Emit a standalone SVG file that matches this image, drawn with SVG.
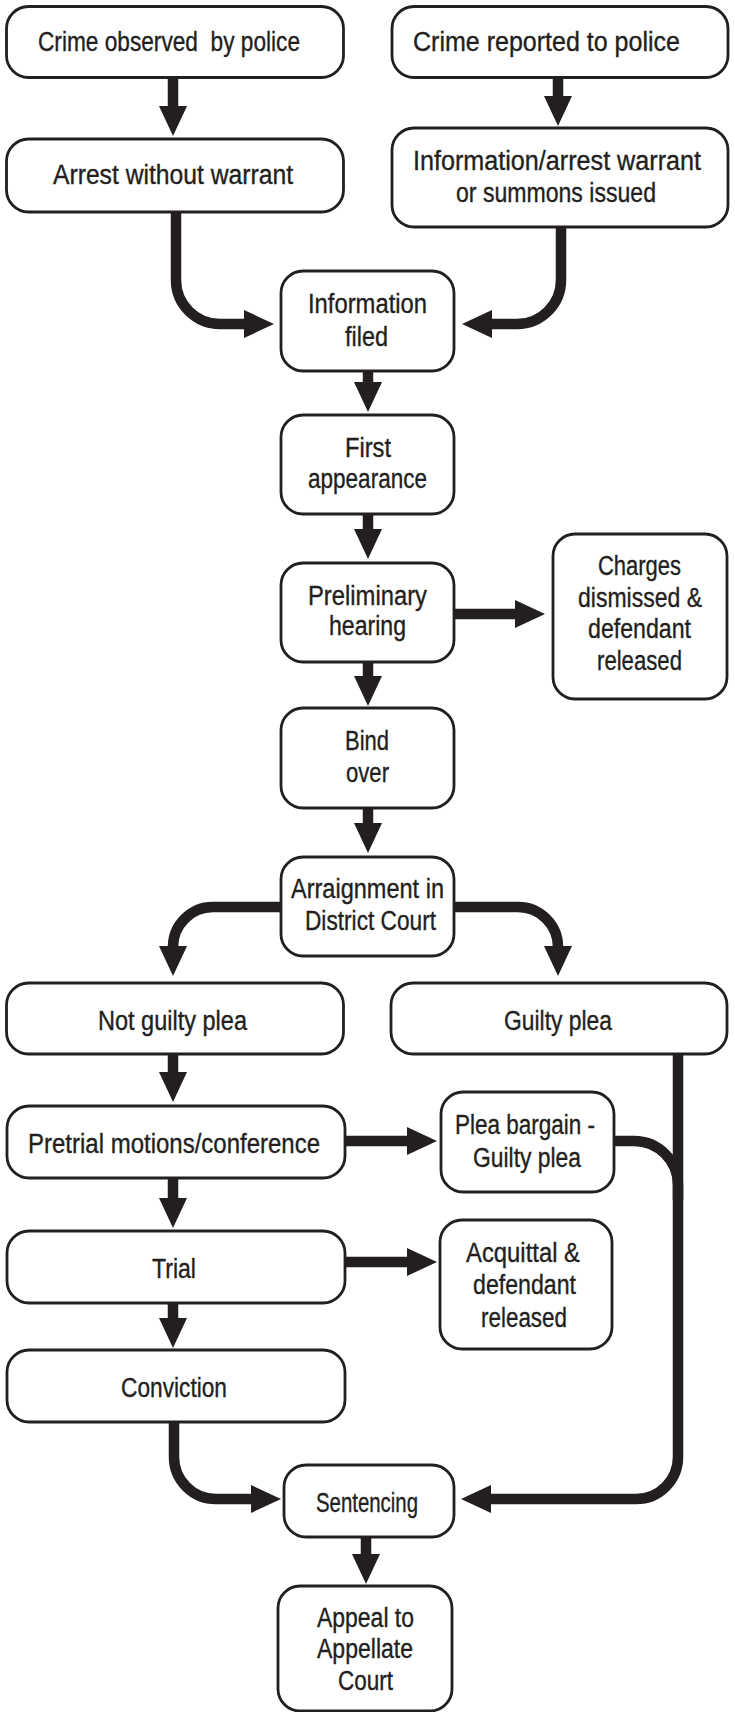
<svg xmlns="http://www.w3.org/2000/svg" width="735" height="1712" viewBox="0 0 735 1712">
<style>
  .box { fill: #ffffff; stroke: #231f20; stroke-width: 2.8; }
  .lbl { font-family: "Liberation Sans Narrow", "Liberation Sans", Arial, sans-serif; font-size: 27px; fill: #231f20; stroke: #231f20; stroke-width: 0.35; text-anchor: middle; }
  .conn { fill: none; stroke: #231f20; stroke-width: 10.5; }
  .arrow { marker-end: url(#head); }
</style>
<defs>
  <marker id="head" markerUnits="userSpaceOnUse" markerWidth="32" markerHeight="30" viewBox="0 -15 32 30" refX="1" refY="0" orient="auto">
    <path d="M0,-14 L30,0 L0,14 Z" fill="#231f20"/>
  </marker>
</defs>
<rect width="735" height="1712" fill="#ffffff"/>

<g id="connectors">
  <path class="conn arrow" d="M173,78 V107"/>
  <path class="conn arrow" d="M558,78 V97"/>
  <path class="conn arrow" d="M176,212 V280 A44,44 0 0 0 220,324 H245"/>
  <path class="conn arrow" d="M561,227 V280 A44,44 0 0 1 517,324 H491"/>
  <path class="conn arrow" d="M368,371 V383"/>
  <path class="conn arrow" d="M368,514 V530"/>
  <path class="conn arrow" d="M454,614 H516"/>
  <path class="conn arrow" d="M368,662 V677"/>
  <path class="conn arrow" d="M368,808 V824"/>
  <path class="conn arrow" d="M281,907 H213 A40,40 0 0 0 173,947"/>
  <path class="conn arrow" d="M454,907 H518 A40,40 0 0 1 558,947"/>
  <path class="conn arrow" d="M173,1054 V1073"/>
  <path class="conn arrow" d="M345,1141 H408"/>
  <path class="conn" d="M614,1141 H634 A44,44 0 0 1 678,1185 V1200"/>
  <path class="conn arrow" d="M173,1178 V1199"/>
  <path class="conn arrow" d="M345,1262 H408"/>
  <path class="conn arrow" d="M173,1303 V1319"/>
  <path class="conn arrow" d="M678,1054 V1457 A42,42 0 0 1 636,1499 H490"/>
  <path class="conn arrow" d="M174,1422 V1457 A42,42 0 0 0 216,1499 H252"/>
  <path class="conn arrow" d="M366,1537 V1555"/>
</g>

<g id="n-crime-observed">
  <rect class="box" x="6.5" y="6.5" width="337" height="71" rx="22"/>
  <text class="lbl" x="169" y="51" textLength="262" lengthAdjust="spacingAndGlyphs" xml:space="preserve">Crime observed  by police</text>
</g>
<g id="n-crime-reported">
  <rect class="box" x="392" y="6.5" width="336" height="71" rx="22"/>
  <text class="lbl" x="546.5" y="51" textLength="267" lengthAdjust="spacingAndGlyphs">Crime reported to police</text>
</g>
<g id="n-arrest">
  <rect class="box" x="6.5" y="139" width="337" height="73" rx="22"/>
  <text class="lbl" x="173" y="184" textLength="240" lengthAdjust="spacingAndGlyphs">Arrest without warrant</text>
</g>
<g id="n-warrant">
  <rect class="box" x="392" y="128" width="336" height="99" rx="22"/>
  <text class="lbl" x="557" y="170" textLength="288" lengthAdjust="spacingAndGlyphs">Information/arrest warrant</text>
  <text class="lbl" x="556" y="202" textLength="200" lengthAdjust="spacingAndGlyphs">or summons issued</text>
</g>
<g id="n-info-filed">
  <rect class="box" x="281" y="271" width="173" height="100" rx="22"/>
  <text class="lbl" x="367.5" y="313" textLength="119" lengthAdjust="spacingAndGlyphs">Information</text>
  <text class="lbl" x="366.5" y="346" textLength="43" lengthAdjust="spacingAndGlyphs">filed</text>
</g>
<g id="n-first-appearance">
  <rect class="box" x="281" y="415" width="173" height="99" rx="22"/>
  <text class="lbl" x="368" y="457" textLength="46" lengthAdjust="spacingAndGlyphs">First</text>
  <text class="lbl" x="367.5" y="488" textLength="119" lengthAdjust="spacingAndGlyphs">appearance</text>
</g>
<g id="n-preliminary">
  <rect class="box" x="281" y="563" width="173" height="99" rx="22"/>
  <text class="lbl" x="367.5" y="605" textLength="119" lengthAdjust="spacingAndGlyphs">Preliminary</text>
  <text class="lbl" x="367.5" y="635" textLength="77" lengthAdjust="spacingAndGlyphs">hearing</text>
</g>
<g id="n-charges-dismissed">
  <rect class="box" x="553" y="534" width="174" height="165" rx="22"/>
  <text class="lbl" x="639.5" y="575" textLength="83" lengthAdjust="spacingAndGlyphs">Charges</text>
  <text class="lbl" x="640" y="607" textLength="124" lengthAdjust="spacingAndGlyphs">dismissed &amp;</text>
  <text class="lbl" x="639.5" y="638" textLength="103" lengthAdjust="spacingAndGlyphs">defendant</text>
  <text class="lbl" x="639.5" y="670" textLength="85" lengthAdjust="spacingAndGlyphs">released</text>
</g>
<g id="n-bind-over">
  <rect class="box" x="281" y="708" width="173" height="100" rx="22"/>
  <text class="lbl" x="367" y="750" textLength="44" lengthAdjust="spacingAndGlyphs">Bind</text>
  <text class="lbl" x="367.5" y="782" textLength="43" lengthAdjust="spacingAndGlyphs">over</text>
</g>
<g id="n-arraignment">
  <rect class="box" x="281" y="857" width="173" height="99" rx="22"/>
  <text class="lbl" x="367.5" y="898" textLength="153" lengthAdjust="spacingAndGlyphs">Arraignment in</text>
  <text class="lbl" x="370.5" y="930" textLength="131" lengthAdjust="spacingAndGlyphs">District Court</text>
</g>
<g id="n-not-guilty">
  <rect class="box" x="6.5" y="983" width="337" height="71" rx="22"/>
  <text class="lbl" x="172.5" y="1030" textLength="149" lengthAdjust="spacingAndGlyphs">Not guilty plea</text>
</g>
<g id="n-guilty">
  <rect class="box" x="391" y="983" width="336" height="71" rx="22"/>
  <text class="lbl" x="558" y="1030" textLength="108" lengthAdjust="spacingAndGlyphs">Guilty plea</text>
</g>
<g id="n-pretrial">
  <rect class="box" x="7" y="1106" width="338" height="72" rx="22"/>
  <text class="lbl" x="174" y="1153" textLength="292" lengthAdjust="spacingAndGlyphs">Pretrial motions/conference</text>
</g>
<g id="n-plea-bargain">
  <rect class="box" x="441" y="1092" width="173" height="100" rx="22"/>
  <text class="lbl" x="525" y="1134" textLength="140" lengthAdjust="spacingAndGlyphs">Plea bargain -</text>
  <text class="lbl" x="527" y="1167" textLength="108" lengthAdjust="spacingAndGlyphs">Guilty plea</text>
</g>
<g id="n-trial">
  <rect class="box" x="7" y="1231" width="338" height="72" rx="22"/>
  <text class="lbl" x="174" y="1278" textLength="44" lengthAdjust="spacingAndGlyphs">Trial</text>
</g>
<g id="n-acquittal">
  <rect class="box" x="440" y="1220" width="172" height="129" rx="22"/>
  <text class="lbl" x="523" y="1262" textLength="114" lengthAdjust="spacingAndGlyphs">Acquittal &amp;</text>
  <text class="lbl" x="524.5" y="1294" textLength="103" lengthAdjust="spacingAndGlyphs">defendant</text>
  <text class="lbl" x="524" y="1327" textLength="86" lengthAdjust="spacingAndGlyphs">released</text>
</g>
<g id="n-conviction">
  <rect class="box" x="7" y="1350" width="338" height="72" rx="22"/>
  <text class="lbl" x="174" y="1397" textLength="106" lengthAdjust="spacingAndGlyphs">Conviction</text>
</g>
<g id="n-sentencing">
  <rect class="box" x="284" y="1465" width="170" height="72" rx="22"/>
  <text class="lbl" x="367" y="1512" textLength="102" lengthAdjust="spacingAndGlyphs">Sentencing</text>
</g>
<g id="n-appeal">
  <rect class="box" x="278" y="1586" width="174" height="125" rx="22"/>
  <text class="lbl" x="365.5" y="1627" textLength="97" lengthAdjust="spacingAndGlyphs">Appeal to</text>
  <text class="lbl" x="365" y="1658" textLength="96" lengthAdjust="spacingAndGlyphs">Appellate</text>
  <text class="lbl" x="365.5" y="1690" textLength="55" lengthAdjust="spacingAndGlyphs">Court</text>
</g>
</svg>
